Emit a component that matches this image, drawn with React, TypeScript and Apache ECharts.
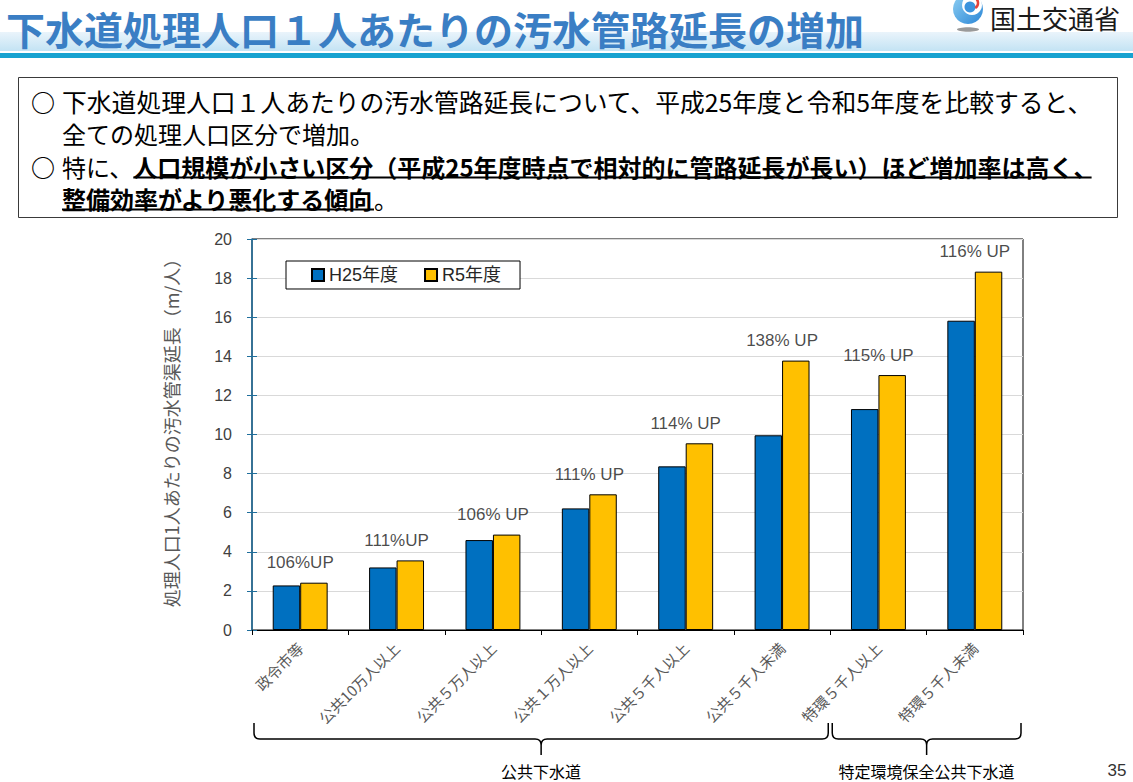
import React, { useEffect, useRef } from "react";
import * as echarts from "echarts";

// ---------- data ----------
const categories = [
  "政令市等",
  "公共10万人以上",
  "公共５万人以上",
  "公共１万人以上",
  "公共５千人以上",
  "公共５千人未満",
  "特環５千人以上",
  "特環５千人未満",
];
const seriesNames = ["H25年度", "R5年度"];
const h25Values = [2.28, 3.2, 4.6, 6.22, 8.37, 9.96, 11.3, 15.82];
const r5Values = [2.42, 3.56, 4.88, 6.94, 9.55, 13.78, 13.04, 18.33];
const upLabels = ["106%UP", "111%UP", "106% UP", "111% UP", "114% UP", "138% UP", "115% UP", "116% UP"];
const yMin = 0;
const yMax = 20;
const yInterval = 2;
const groupNames = ["公共下水道", "特定環境保全公共下水道"];
const groupSpans = [
  [0, 6],
  [6, 8],
];
const titleText = "下水道処理人口１人あたりの汚水管路延長の増加";
const orgText = "国土交通省";
const yAxisName = "処理人口1人あたりの汚水管渠延長（m/人）";
const pageNo = "35";

// ---------- layout ----------
const W = 1133;
const H = 782;
const GRID = { left: 252, top: 239, width: 771, height: 391 };
const JP = "'Noto Sans CJK JP', 'Noto Sans', sans-serif";
const LAT = "'Liberation Sans', Arial, 'Noto Sans CJK JP', sans-serif";

const cw = GRID.width / categories.length;
const braceY0 = 723;
const braceYL = 739;
const braceYT = 755;

function bracePath(x1: number, x2: number, xm: number, y0: number, yl: number, yt: number, r: number) {
  return (
    `M${x1} ${y0} L${x1} ${yl - r} Q${x1} ${yl} ${x1 + r} ${yl} L${xm - r} ${yl} ` +
    `Q${xm} ${yl} ${xm} ${yl + r} L${xm} ${yt} M${xm} ${yl + r} Q${xm} ${yl} ${xm + r} ${yl} ` +
    `L${x2 - r} ${yl} Q${x2} ${yl} ${x2} ${yl - r} L${x2} ${y0}`
  );
}

const braces = groupSpans.map(([a, b], i) => {
  const x1 = GRID.left + a * cw + 2;
  const x2 = GRID.left + b * cw - 2;
  const xm = GRID.left + ((a + b) / 2) * cw;
  const name = "brace" + i;
  echarts.graphic.registerShape(name, echarts.graphic.extendPath(bracePath(x1, x2, xm, braceY0, braceYL, braceYT, 6), {}) as any);
  return { name, xm };
});

function measure(text: string, font: string) {
  const c = document.createElement("canvas").getContext("2d");
  if (!c) return text.length * 24;
  c.font = font;
  return c.measureText(text).width;
}

function buildHeader() {
  const fs = 24;
  const reg = `normal ${fs}px ${JP}`;
  const bold = `bold ${fs}px ${JP}`;
  const tx = 62;
  const els: any[] = [];
  const t = (text: string, x: number, y: number, weight: string, size = fs) => ({
    type: "text",
    style: {
      text,
      x,
      y,
      fill: "#000",
      fontSize: size,
      lineHeight: 24,
      fontFamily: JP,
      fontWeight: weight,
      verticalAlign: "middle",
      textVerticalAlign: "middle",
    },
  });
  const ul = (x1: number, x2: number, y: number) => ({
    type: "line",
    shape: { x1, y1: y, x2, y2: y },
    style: { stroke: "#000", lineWidth: 1.8 },
  });
  // line 1
  els.push(t("○", 31, 101, "bold"));
  els.push(t("下水道処理人口１人あたりの汚水管路延長について、平成25年度と令和5年度を比較すると、", tx, 101, "normal", 24.8));
  // line 2
  els.push(t("全ての処理人口区分で増加。", tx, 133, "normal"));
  // line 3
  els.push(t("○", 31, 166, "bold"));
  const seg1 = "特に、";
  const seg2 = "人口規模が小さい区分（平成25年度時点で相対的に管路延長が長い）ほど増加率は高く、";
  const w1 = measure(seg1, reg);
  const w2 = measure(seg2, bold);
  els.push(t(seg1, tx, 166, "normal"));
  els.push(t(seg2, tx + w1, 166, "bold"));
  els.push(ul(tx + w1, tx + w1 + w2 - 6, 177.5));
  // line 4
  const seg3 = "整備効率がより悪化する傾向";
  const w3 = measure(seg3, bold);
  els.push(t(seg3, tx, 198, "bold"));
  els.push(t("。", tx + w3, 198, "normal"));
  els.push(ul(tx, tx + w3, 209.5));
  return els;
}

export default function App() {
  const ref = useRef<HTMLDivElement>(null);

  useEffect(() => {
    document.body.style.margin = "0";
    if (!ref.current) return;
    const chart = echarts.init(ref.current, undefined, { renderer: "svg" });

    const graphic: any[] = [
      // title band
      {
        type: "rect",
        shape: { x: 0, y: 32, width: W, height: 19 },
        style: {
          fill: new echarts.graphic.LinearGradient(0, 0, 0, 1, [
            { offset: 0, color: "#eaf4fb" },
            { offset: 1, color: "#c3e3f4" },
          ]),
        },
        z: 0,
      },
      { type: "rect", shape: { x: 0, y: 53, width: W, height: 5 }, style: { fill: "#17a2d0" }, z: 0 },
      {
        type: "text",
        style: {
          text: titleText,
          x: 6,
          y: 28,
          fill: "#3a7ec4",
          fontSize: 39,
          fontWeight: "bold",
          fontFamily: JP,
          verticalAlign: "middle",
          textVerticalAlign: "middle",
        },
        z: 2,
      },
      // logo
      { type: "ellipse", shape: { cx: 968, cy: 29.5, rx: 11, ry: 2.2 }, style: { fill: "#9a9a9a" } },
      {
        type: "circle",
        shape: { cx: 968, cy: 9, r: 15 },
        style: {
          fill: new echarts.graphic.LinearGradient(0, 0, 1, 1, [
            { offset: 0, color: "#8fd0f3" },
            { offset: 1, color: "#2b86d6" },
          ]),
        },
      },
      { type: "circle", shape: { cx: 972, cy: 5, r: 10 }, style: { fill: "#ffffff" } },
      { type: "circle", shape: { cx: 970, cy: 7, r: 5.5 }, style: { fill: "#3b93dd" } },
      {
        type: "arc",
        shape: { cx: 972, cy: 3, r: 6, startAngle: -1.2, endAngle: 1.0 },
        style: { stroke: "#e4423b", lineWidth: 2.5, fill: "none" },
      },
      {
        type: "text",
        style: {
          text: orgText,
          x: 990,
          y: 17,
          fill: "#1a1a1a",
          fontSize: 26,
          fontFamily: JP,
          verticalAlign: "middle",
          textVerticalAlign: "middle",
        },
      },
      // text box
      {
        type: "rect",
        shape: { x: 18.5, y: 77.5, width: 1099, height: 140 },
        style: { fill: "none", stroke: "#3a3a3a", lineWidth: 1 },
      },
      ...buildHeader(),
      // braces
      ...braces.map((b) => ({
        type: b.name,
        x: 0,
        y: 0,
        style: { stroke: "#000", fill: "none", lineWidth: 1.5 },
      })),
      ...braces.map((b, i) => ({
        type: "text",
        style: {
          text: groupNames[i],
          x: b.xm,
          y: 771,
          fill: "#000",
          fontSize: 16,
          fontFamily: JP,
          align: "center",
          textAlign: "center",
          verticalAlign: "middle",
          textVerticalAlign: "middle",
        },
      })),
      {
        type: "text",
        style: {
          text: pageNo,
          x: 1117,
          y: 770,
          fill: "#333",
          fontSize: 17,
          fontFamily: LAT,
          align: "center",
          textAlign: "center",
          verticalAlign: "middle",
          textVerticalAlign: "middle",
        },
      },
    ];

    chart.setOption({
      animation: false,
      backgroundColor: "#ffffff",
      grid: {
        left: GRID.left,
        top: GRID.top,
        width: GRID.width,
        height: GRID.height,
        containLabel: false,
        show: true,
        borderColor: "#000",
        borderWidth: 1,
        backgroundColor: "transparent",
      },
      legend: {
        data: seriesNames,
        left: 286,
        top: 261,
        orient: "horizontal",
        icon: "rect",
        itemWidth: 12,
        itemHeight: 12,
        itemGap: 26,
        padding: [5, 19, 5, 25],
        borderColor: "#000",
        borderWidth: 1,
        backgroundColor: "#fff",
        textStyle: { fontSize: 18, color: "#262626", fontFamily: LAT },
      },
      xAxis: {
        type: "category",
        data: categories,
        axisLine: { show: true, lineStyle: { color: "#000", width: 1 } },
        axisTick: { show: true, length: 5, lineStyle: { color: "#000" }, interval: 0 },
        axisLabel: {
          interval: 0,
          rotate: 45,
          margin: 15,
          fontSize: 15,
          color: "#595959",
          fontFamily: JP,
        },
        splitLine: { show: false },
      },
      yAxis: [
        {
          type: "value",
          min: yMin,
          max: yMax,
          interval: yInterval,
          name: yAxisName,
          nameLocation: "middle",
          nameRotate: 90,
          nameGap: 72,
          nameTextStyle: { fontSize: 18, color: "#595959", fontFamily: JP, padding: [0, 0, 0, 12] },
          axisLine: { show: true, lineStyle: { color: "#1f6e9c", width: 1.5 } },
          axisTick: { show: true, length: 5, lineStyle: { color: "#1f6e9c" } },
          axisLabel: { fontSize: 16, color: "#404040", fontFamily: LAT, margin: 20 },
          splitLine: { show: true, lineStyle: { color: "#d9d9d9", width: 1 } },
        },
        {
          type: "value",
          min: yMin,
          max: yMax,
          interval: yInterval,
          position: "left",
          axisLine: { show: false },
          axisTick: { show: true, inside: true, length: 5, lineStyle: { color: "#1f6e9c" } },
          axisLabel: { show: false },
          splitLine: { show: false },
        },
      ],
      series: [
        {
          name: seriesNames[0],
          type: "bar",
          data: h25Values,
          barGap: "0%",
          barCategoryGap: "43%",
          itemStyle: { color: "#0070c0", borderColor: "#000", borderWidth: 1 },
        },
        {
          name: seriesNames[1],
          type: "bar",
          data: r5Values,
          barGap: "0%",
          barCategoryGap: "43%",
          itemStyle: { color: "#ffc000", borderColor: "#000", borderWidth: 1 },
        },
        {
          name: "増加率",
          type: "scatter",
          data: r5Values,
          symbolSize: 1,
          silent: true,
          itemStyle: { color: "rgba(0,0,0,0)" },
          label: {
            show: true,
            position: "top",
            distance: 11,
            formatter: (p: any) => upLabels[p.dataIndex],
            fontSize: 17,
            color: "#1a1a1a",
            fontFamily: LAT,
          },
          z: 5,
        },
      ],
      graphic,
    });

    return () => chart.dispose();
  }, []);

  return <div ref={ref} style={{ width: W, height: H }} />;
}
